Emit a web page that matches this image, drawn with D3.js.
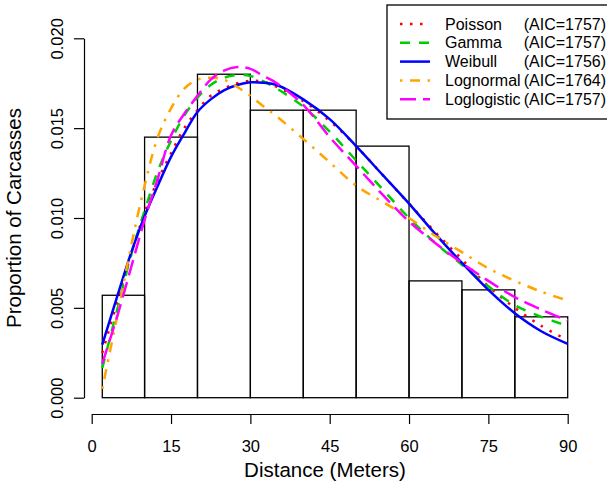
<!DOCTYPE html>
<html>
<head>
<meta charset="utf-8">
<script src="https://cdn.jsdelivr.net/npm/d3@7"></script>
<style>
  html, body { margin: 0; padding: 0; background: #fff; }
  svg { display: block; font-family: "Liberation Sans", Arial, Helvetica, sans-serif; }
</style>
</head>
<body>
<svg id="chart" width="607" height="489"></svg>
<script>
// ---- data ----
const binStarts  = [2, 10, 20, 30, 40, 50, 60, 70, 80];
const binEnds    = [10, 20, 30, 40, 50, 60, 70, 80, 90];
const binHeights = [0.0057, 0.0145, 0.0180, 0.0160, 0.0160, 0.0140, 0.0065, 0.0060, 0.0045];

const distances = [2, 5, 7.5, 10, 12.5, 15, 17.5, 20, 22.5, 25, 27.5, 30, 32.5, 35, 40, 45, 50, 55, 60, 65, 70, 75, 80, 85, 90];
const poissonFit    = [0.0025, 0.0055, 0.0080, 0.0103, 0.0121, 0.0136, 0.0150, 0.0160, 0.0168, 0.0172, 0.0175, 0.01763, 0.01758, 0.0173, 0.0165, 0.0154, 0.0140, 0.0124, 0.0108, 0.0092, 0.0077, 0.0062, 0.0050, 0.0040, 0.0032];
const gammaFit      = [0.00165, 0.0051, 0.0080, 0.0104, 0.0126, 0.0143, 0.0157, 0.0167, 0.0174, 0.0178, 0.01795, 0.0179, 0.0176, 0.0172, 0.0162, 0.0148, 0.0132, 0.0116, 0.0100, 0.0086, 0.0074, 0.0062, 0.00515, 0.0045, 0.0040];
const weibullFit    = [0.00295, 0.0058, 0.0081, 0.0101, 0.0118, 0.0134, 0.0147, 0.0159, 0.0166, 0.0171, 0.0174, 0.01755, 0.01752, 0.0174, 0.0166, 0.0155, 0.0140, 0.0124, 0.0108, 0.0091, 0.0075, 0.0060, 0.0047, 0.0037, 0.0030];
const lognormalFit  = [0.0005, 0.0048, 0.0085, 0.0118, 0.0145, 0.0161, 0.0172, 0.0177, 0.0178, 0.0177, 0.0173, 0.0168, 0.0162, 0.01565, 0.0144, 0.0131, 0.0118, 0.0109, 0.0100, 0.0090, 0.0081, 0.0072, 0.0065, 0.0059, 0.0054];
const loglogFit     = [0.0019, 0.0047, 0.0073, 0.0099, 0.0122, 0.0146, 0.0158, 0.0168, 0.0177, 0.0182, 0.0184, 0.0183, 0.0179, 0.0175, 0.0163, 0.0145, 0.0129, 0.0113, 0.0098, 0.0086, 0.0075, 0.0065, 0.0056, 0.0049, 0.0043];

const seriesNames  = ["Poisson", "Gamma", "Weibull", "Lognormal", "Loglogistic"];
const seriesAIC    = ["(AIC=1757)", "(AIC=1757)", "(AIC=1756)", "(AIC=1764)", "(AIC=1757)"];
const seriesValues = [poissonFit, gammaFit, weibullFit, lognormalFit, loglogFit];
const seriesColors = ["#FF0000", "#00CD00", "#0000FF", "#FFA500", "#FF00FF"];
const seriesDash   = ["2.5,7.5", "10,9", null, "2.5,7.5,10,7.5", "16,7"];

const xTicks = [0, 15, 30, 45, 60, 75, 90];
const yTicks = [0, 0.005, 0.010, 0.015, 0.020];

// ---- drawing ----
const svg = d3.select("#chart");
svg.append("rect").attr("width", 607).attr("height", 489).attr("fill", "#fff");

const x = d3.scaleLinear().domain([0, 90]).range([91.7, 567.7]);
const y = d3.scaleLinear().domain([0, 0.02]).range([397.7, 38.3]);

// histogram bars
svg.append("g").selectAll("rect")
  .data(binHeights)
  .join("rect")
  .attr("x", (d, i) => x(binStarts[i]))
  .attr("width", (d, i) => x(binEnds[i]) - x(binStarts[i]))
  .attr("y", d => y(d))
  .attr("height", d => y(0) - y(d))
  .attr("fill", "none")
  .attr("stroke", "#000")
  .attr("stroke-width", 1.3);

// fitted curves
const line = d3.line()
  .x((d, i) => x(distances[i]))
  .y(d => y(d))
  .curve(d3.curveCatmullRom);

seriesValues.forEach((vals, k) => {
  svg.append("path")
    .attr("d", line(vals))
    .attr("fill", "none")
    .attr("stroke", seriesColors[k])
    .attr("stroke-width", 2.5)
    .attr("stroke-dasharray", seriesDash[k])
    .attr("stroke-linecap", "butt");
});

// axes
const fs = 16.5;
const yAxis = d3.axisLeft(y).tickValues(yTicks).tickFormat(d3.format(".3f")).tickSize(10).tickSizeOuter(0);
const gy = svg.append("g").attr("transform", "translate(84,0)").call(yAxis);
gy.selectAll("path, line").attr("stroke", "#000").attr("stroke-width", 1.2);
gy.selectAll("text")
  .attr("transform", "rotate(-90)")
  .attr("x", 0).attr("y", -21).attr("dy", 0)
  .attr("text-anchor", "middle")
  .attr("font-size", fs).attr("font-family", "Liberation Sans, Arial, sans-serif")
  .attr("fill", "#000");

const xAxis = d3.axisBottom(x).tickValues(xTicks).tickFormat(d3.format("d")).tickSize(10).tickSizeOuter(0);
const gx = svg.append("g").attr("transform", "translate(0,414)").call(xAxis);
gx.selectAll("path, line").attr("stroke", "#000").attr("stroke-width", 1.2);
gx.selectAll("text")
  .attr("y", 38).attr("dy", 0)
  .attr("font-size", fs).attr("font-family", "Liberation Sans, Arial, sans-serif")
  .attr("fill", "#000");

// axis titles
svg.append("text")
  .attr("x", 325).attr("y", 477)
  .attr("text-anchor", "middle")
  .attr("font-size", 20.5)
  .text("Distance (Meters)");
svg.append("text")
  .attr("transform", "translate(21,218) rotate(-90)")
  .attr("text-anchor", "middle")
  .attr("font-size", 20.5)
  .text("Proportion of Carcasses");

// legend
const lg = svg.append("g");
lg.append("rect")
  .attr("x", 387).attr("y", 5).attr("width", 240).attr("height", 114)
  .attr("fill", "#fff").attr("stroke", "#000").attr("stroke-width", 1.3);
seriesNames.forEach((name, k) => {
  const cy = 24 + k * 18.8;
  lg.append("line")
    .attr("x1", 400).attr("x2", 430).attr("y1", cy).attr("y2", cy)
    .attr("stroke", seriesColors[k]).attr("stroke-width", 2.5)
    .attr("stroke-dasharray", seriesDash[k]);
  lg.append("text")
    .attr("x", 445).attr("y", cy + 5.6)
    .attr("font-size", 16)
    .text(name);
  lg.append("text")
    .attr("x", 606).attr("y", cy + 5.6)
    .attr("text-anchor", "end")
    .attr("font-size", 16)
    .text(seriesAIC[k]);
});
</script>
</body>
</html>
